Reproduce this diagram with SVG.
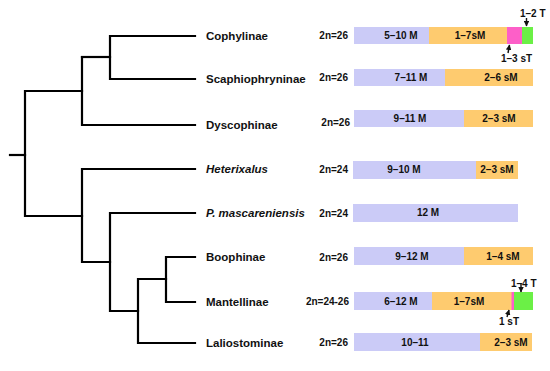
<svg xmlns="http://www.w3.org/2000/svg" width="550" height="371" viewBox="0 0 550 371">
<defs>
<style>
.t{font-family:"Liberation Sans",Arial,sans-serif;font-weight:bold;fill:#111}
.tx{font-size:11.5px}
.it{font-style:italic}
.s{font-size:10px}
.m{text-anchor:middle}
.e{text-anchor:end}
.br{fill:none;stroke:#000;stroke-width:2.2;stroke-linecap:square;stroke-linejoin:miter}
.lav{fill:#cbcbf7}
.org{fill:#fecb6f}
.pnk{fill:#fd5fc8}
.grn{fill:#6bf046}
.ar{stroke:#111;stroke-width:1.4;fill:none;marker-end:url(#ah)}
</style>
<marker id="ah" viewBox="0 0 10 10" refX="9" refY="5" markerWidth="4" markerHeight="4" orient="auto">
<path d="M0,0 L10,5 L0,10 z" fill="#111"/>
</marker>
</defs>
<rect width="550" height="371" fill="#fff"/>
<g id="connectors">
<path class="br" d="M195,36 H110 V79 H195"/>
<path class="br" d="M110,57 H82"/>
<path class="br" d="M82,57 V125 H195"/>
<path class="br" d="M82,91 H25 V216 H82"/>
<path class="br" d="M10,155 H25"/>
<path class="br" d="M195,169 H82 V262 H110"/>
<path class="br" d="M195,213 H110 V311 H138"/>
<path class="br" d="M166,279 H138 V343 H195"/>
<path class="br" d="M195,257 H166 V302 H195"/>
</g>
<g id="cophylinae">
<text class="t tx" x="206" y="40">Cophylinae</text>
<text class="t s e" x="348" y="39">2n=26</text>
<rect class="lav" x="354" y="27" width="75" height="17"/>
<rect class="org" x="429" y="27" width="78" height="17"/>
<rect class="pnk" x="507" y="27" width="15" height="17"/>
<rect class="grn" x="522" y="27" width="11" height="17"/>
<text class="t s m" x="401" y="39">5–10 M</text>
<text class="t s m" x="470" y="39">1–7sM</text>
<text class="t s" x="520" y="17">1–2 T</text>
<path class="ar" d="M526.5,18 V26"/>
<text class="t s" x="501" y="62">1–3 sT</text>
<path class="ar" d="M508,53 L509.5,45"/>
</g>
<g id="scaphiophryninae">
<text class="t tx" x="206" y="83">Scaphiophryninae</text>
<text class="t s e" x="348" y="81">2n=26</text>
<rect class="lav" x="354" y="69" width="91" height="17"/>
<rect class="org" x="445" y="69" width="88" height="17"/>
<text class="t s m" x="411" y="81">7–11 M</text>
<text class="t s m" x="501" y="81">2–6 sM</text>
</g>
<g id="dyscophinae">
<text class="t tx" x="206" y="129">Dyscophinae</text>
<text class="t s e" x="350" y="126">2n=26</text>
<rect class="lav" x="354" y="110" width="110" height="17"/>
<rect class="org" x="464" y="110" width="69" height="17"/>
<text class="t s m" x="410" y="122">9–11 M</text>
<text class="t s m" x="499" y="122">2–3 sM</text>
</g>
<g id="heterixalus">
<text class="t tx it" x="206" y="173">Heterixalus</text>
<text class="t s e" x="348" y="173">2n=24</text>
<rect class="lav" x="353" y="161" width="123" height="18"/>
<rect class="org" x="476" y="161" width="42" height="18"/>
<text class="t s m" x="404" y="173">9–10 M</text>
<text class="t s m" x="497" y="173">2–3 sM</text>
</g>
<g id="p-mascareniensis">
<text class="t tx it" x="206" y="217">P. mascareniensis</text>
<text class="t s e" x="348" y="217">2n=24</text>
<rect class="lav" x="353" y="204" width="165" height="18"/>
<text class="t s m" x="428" y="216">12 M</text>
</g>
<g id="boophinae">
<text class="t tx" x="206" y="261">Boophinae</text>
<text class="t s e" x="348" y="261">2n=26</text>
<rect class="lav" x="354" y="247" width="110" height="18"/>
<rect class="org" x="464" y="247" width="69" height="18"/>
<text class="t s m" x="412" y="260">9–12 M</text>
<text class="t s m" x="503" y="260">1–4 sM</text>
</g>
<g id="mantellinae">
<text class="t tx" x="206" y="306">Mantellinae</text>
<text class="t s e" x="349" y="305">2n=24-26</text>
<rect class="lav" x="354" y="292" width="78" height="18"/>
<rect class="org" x="432" y="292" width="80" height="18"/>
<rect class="pnk" x="511.5" y="292" width="2.5" height="18"/>
<rect class="grn" x="514" y="292" width="19" height="18"/>
<text class="t s m" x="401" y="305">6–12 M</text>
<text class="t s m" x="469" y="305">1–7sM</text>
<text class="t s" x="511" y="287">1–4 T</text>
<path class="ar" d="M521,283 V292"/>
<text class="t s" x="499" y="325">1 sT</text>
<path class="ar" d="M507,317 L509,310"/>
</g>
<g id="laliostominae">
<text class="t tx" x="206" y="347">Laliostominae</text>
<text class="t s e" x="348" y="346">2n=26</text>
<rect class="lav" x="354" y="333" width="126" height="18"/>
<rect class="org" x="480" y="333" width="52" height="18"/>
<text class="t s m" x="415" y="346">10–11</text>
<text class="t s m" x="511" y="346">2–3 sM</text>
</g>
</svg>
